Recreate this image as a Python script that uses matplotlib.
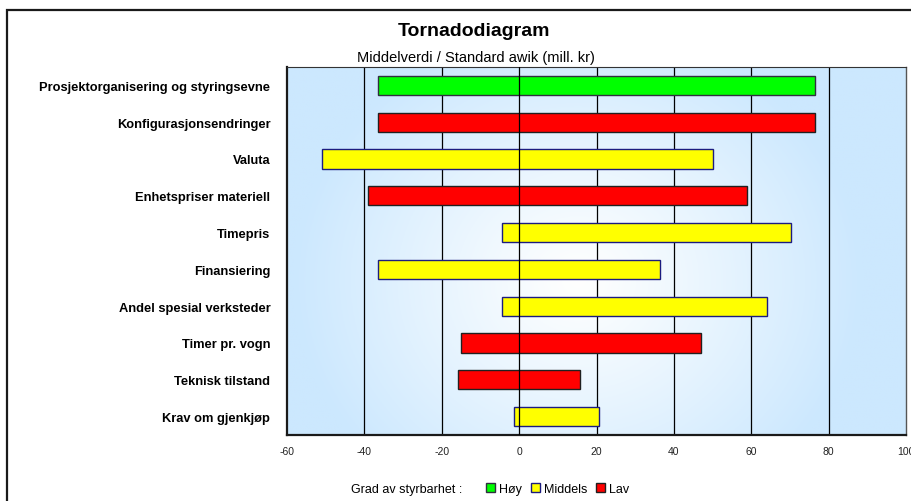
import numpy as np
import matplotlib
matplotlib.use("Agg")
import matplotlib.pyplot as plt
from matplotlib.patches import Patch, Rectangle

plt.rcParams['font.family'] = ['Liberation Sans', 'DejaVu Sans']
plt.rcParams['axes.unicode_minus'] = False

# tornado data (mill. kr), top to bottom
factors = ["Prosjektorganisering og styringsevne", "Konfigurasjonsendringer", "Valuta",
           "Enhetspriser materiell", "Timepris", "Finansiering", "Andel spesial verksteder",
           "Timer pr. vogn", "Teknisk tilstand", "Krav om gjenkjøp"]
low = [-36.6, -36.6, -50.9, -39.0, -4.5, -36.6, -4.3, -15.1, -15.9, -1.4]
high = [76.6, 76.6, 50.1, 58.9, 70.4, 36.4, 64.1, 47.0, 15.7, 20.6]
grade = ["Høy", "Lav", "Middels", "Lav", "Middels", "Middels", "Middels", "Lav", "Lav", "Middels"]

grade_colors = {"Høy": "#00FF00", "Middels": "#FFFF00", "Lav": "#FF0000"}
grade_edges = {"Høy": "#303040", "Middels": "#1c1c80", "Lav": "#202020"}

W, H = 911, 502
fig = plt.figure(figsize=(W / 100, H / 100), dpi=100)
ax = fig.add_axes([287 / W, 1 - 436 / H, (906 - 287) / W, (436 - 68) / H])

# soft blue background, lighter towards the middle
gx, gy = np.meshgrid(np.linspace(0, 1, 300), np.linspace(0, 1, 200))
d = np.sqrt(((gx - 0.47) / 0.46) ** 2 + ((gy - 0.42) / 0.7) ** 2)
d = np.clip(d, 0, 1) ** 1.1
edge = np.array([204, 232, 254]) / 255
img = (1 - d)[..., None] * np.ones(3) + d[..., None] * edge
ax.imshow(img, extent=[0, 1, 0, 1], transform=ax.transAxes, aspect='auto',
          origin='lower', zorder=0)

y = np.arange(len(factors))
widths = np.array(high) - np.array(low)
ax.barh(y, widths, left=low, height=0.52,
        color=[grade_colors[g] for g in grade],
        edgecolor=[grade_edges[g] for g in grade], linewidth=1.0, zorder=3)

for gxv in [-40, -20, 20, 40, 60, 80]:
    ax.axvline(gxv, color='black', lw=0.9, zorder=1)
ax.axvline(0, color='black', lw=0.9, zorder=4)

ax.set_xlim(-60, 100)
ax.set_ylim(len(factors) - 0.5, -0.5)
ax.set_xticks(range(-60, 101, 20))
ax.tick_params(axis='x', length=0, labelsize=7.5, pad=8, colors='#222222')
ax.tick_params(axis='y', length=0, pad=12)
ax.set_yticks(y)
ax.set_yticklabels(factors, fontsize=9.3, fontweight='bold')

for s in ['left', 'bottom']:
    ax.spines[s].set_linewidth(1.6)
    ax.spines[s].set_color('#1a1a1a')
ax.spines['top'].set_linewidth(0.8)
ax.spines['top'].set_color('#333333')
ax.spines['right'].set_linewidth(1.0)
ax.spines['right'].set_color('#555555')

fig.text(474 / W, 1 - 32 / H, "Tornadodiagram", ha='center', va='center',
         fontsize=14, fontweight='bold')
fig.text(476 / W, 1 - 58 / H, "Middelverdi / Standard awik (mill. kr)", ha='center',
         va='center', fontsize=10.5)

# legend row
fig.text(407 / W, 1 - 490 / H, "Grad av styrbarhet :", ha='center', va='center', fontsize=9)
handles = [Patch(facecolor=grade_colors[g], edgecolor=grade_edges[g], label=g)
           for g in ["Høy", "Middels", "Lav"]]
fig.legend(handles=handles, loc='center', bbox_to_anchor=(558 / W, 1 - 490 / H),
           ncol=3, frameon=False, fontsize=9, handlelength=0.7, handleheight=0.7,
           handletextpad=0.35, columnspacing=0.7, borderpad=0)

# outer chart frame
fig.patches.append(Rectangle((7 / W, -0.05), 1.1, 1 - 11 / H + 0.05, transform=fig.transFigure,
                             fill=False, edgecolor='#1a1a1a', lw=1.6))

fig.savefig("out.png", dpi=100)
